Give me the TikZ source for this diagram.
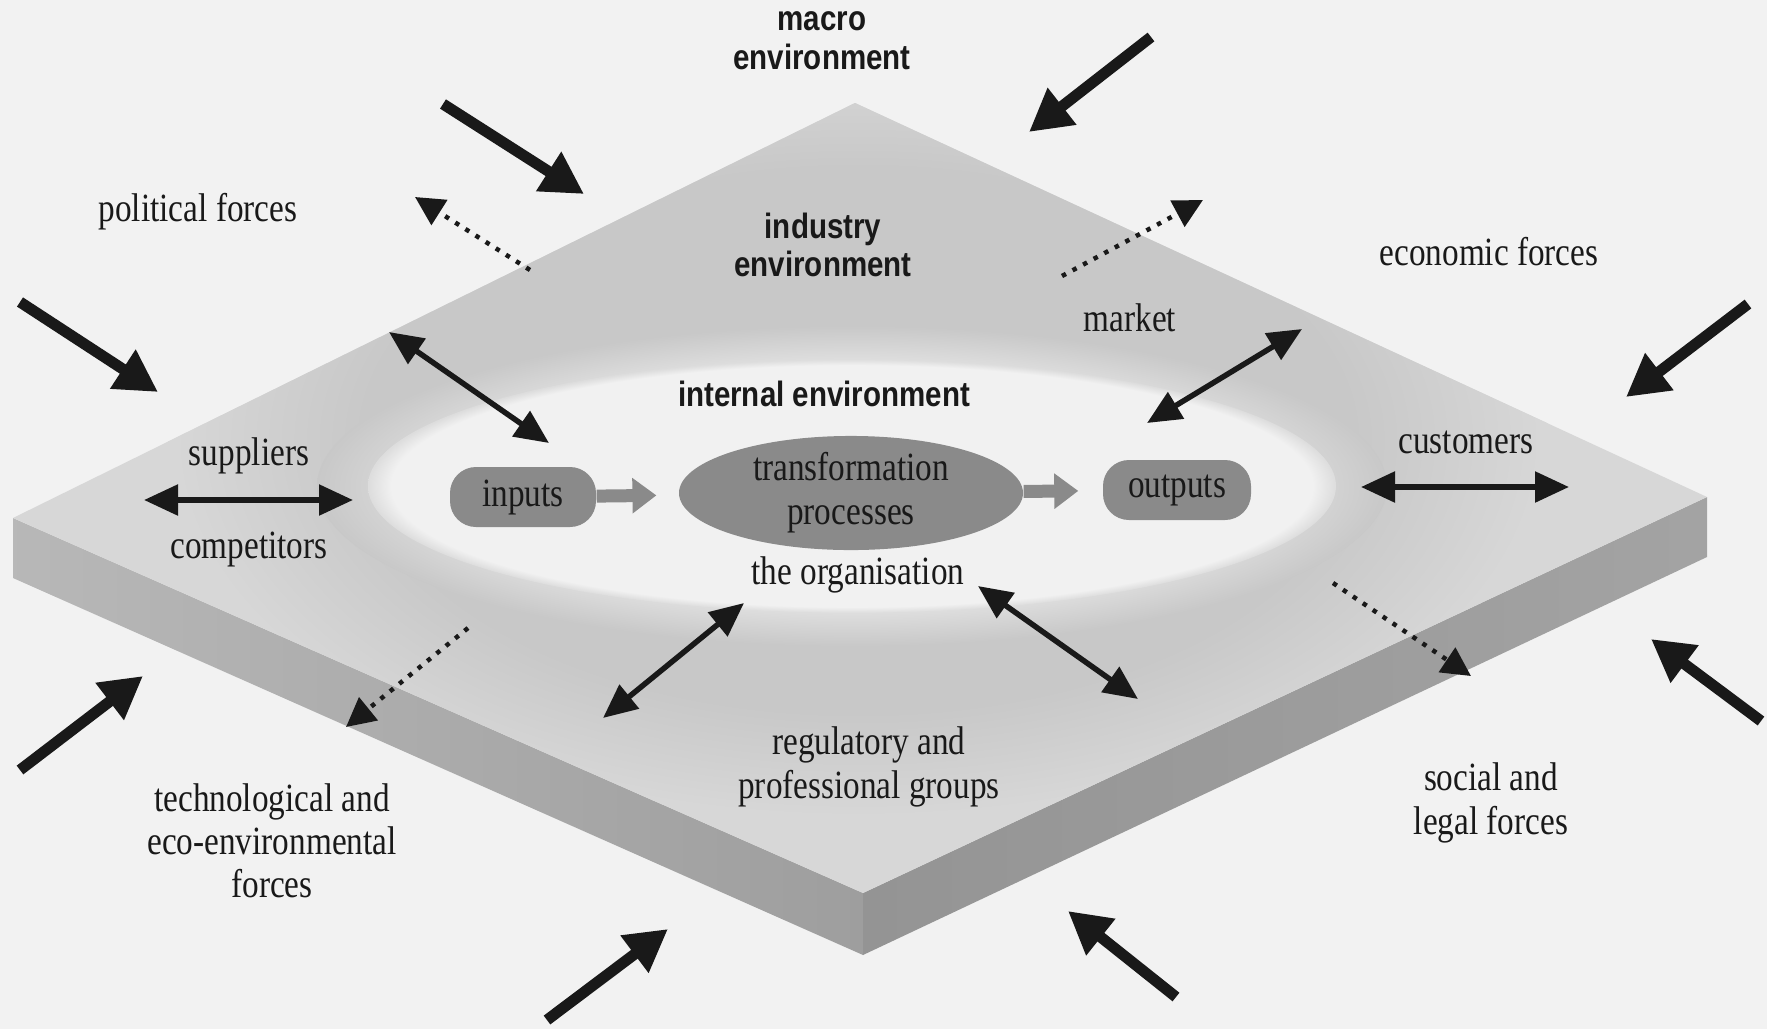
\documentclass[tikz,border=0pt]{standalone}
\usepackage{fontspec}
\setmainfont[FakeStretch=0.83]{Liberation Serif}
\newfontfamily\headfont[FakeStretch=0.84]{Liberation Sans}
\usetikzlibrary{arrows.meta,shapes.geometric}

\definecolor{paper}{gray}{0.95}
\definecolor{macgray}{gray}{0.845}
\definecolor{indgray}{gray}{0.785}
\definecolor{halogray}{gray}{0.865}
\definecolor{intwhite}{gray}{0.945}
\definecolor{procgray}{gray}{0.54}
\definecolor{ink}{gray}{0.1}

% soft-edged fills for the three environments (25bp = edge of the path)
\pgfdeclareradialshading{industry}{\pgfpoint{0bp}{0bp}}{%
  color(0bp)=(indgray); color(18bp)=(indgray); color(25bp)=(macgray);
  color(50bp)=(macgray)}
\pgfdeclareradialshading{halo}{\pgfpoint{0bp}{0bp}}{%
  color(0bp)=(halogray); color(20bp)=(halogray); color(25bp)=(indgray);
  color(50bp)=(indgray)}
\pgfdeclareradialshading{internal}{\pgfpoint{0bp}{0bp}}{%
  color(0bp)=(intwhite); color(23.8bp)=(intwhite); color(25bp)=(halogray);
  color(50bp)=(halogray)}

\begin{document}
\begin{tikzpicture}[
    x=0.1mm, y=-0.1mm,
    lbl/.style={text=ink, align=center, inner sep=1pt,
      font=\fontsize{11.4}{12.3}\selectfont},
    hdg/.style={text=ink, align=center, inner sep=1pt,
      font=\headfont\bfseries\fontsize{10}{11}\selectfont},
    force/.style={draw=ink, line width=1.1mm,
      -{Triangle[length=4.2mm,width=4.4mm]}},
    leak/.style={draw=ink, line width=0.45mm, dash pattern=on 0.45mm off 0.75mm,
      -{Triangle[length=2.9mm,width=2.9mm]}},
    link/.style={draw=ink, line width=0.55mm,
      {Triangle[length=3.4mm,width=3mm]}-{Triangle[length=3.4mm,width=3mm]}},
    proc/.style={fill=procgray, text=black!90, inner sep=0pt, align=center,
      font=\fontsize{11.4}{12.5}\selectfont},
    flow/.style={draw=procgray, line width=1.3mm,
      -{Triangle[length=2.4mm,width=3.4mm]}}
  ]
  \fill[paper] (0,0) rectangle (1767,1029);
  \useasboundingbox (0,0) rectangle (1767,1029);

  % corners of the slab
  \coordinate (apex) at (855,103);
  \coordinate (lft)  at (13,518);
  \coordinate (btm)  at (863,893);
  \coordinate (rgt)  at (1707,497);
  \coordinate (lftb) at (13,578);
  \coordinate (btmb) at (863,955);
  \coordinate (rgtb) at (1707,557);

  \shade[left color=black!28, right color=black!38]
    (lft) -- (btm) -- (btmb) -- (lftb) -- cycle;
  \shade[left color=black!42, right color=black!36]
    (btm) -- (rgt) -- (rgtb) -- (btmb) -- cycle;
  \fill[macgray] (apex) -- (rgt) -- (btm) -- (lft) -- cycle;

  % industry, then internal environment on top
  \begin{scope}
    \clip (apex) -- (rgt) -- (btm) -- (lft) -- cycle;
    \shade[shading=industry] (858,440) ellipse [x radius=690, y radius=380];
    \shade[shading=halo] (852,486) ellipse [x radius=535, y radius=160];
    \shade[shading=internal] (852,486) ellipse [x radius=484, y radius=127];
  \end{scope}

  \node[hdg] (macro) at (822,41) {macro\\environment};
  \node[hdg] (industry) at (823,245) {industry\\environment};
  \node[hdg] (internal) at (824,394) {internal environment};

  \node[proc, rounded corners=2.6mm, minimum width=14.6mm, minimum height=6mm]
    (inputs) at (523,497) {inputs};
  \node[proc, ellipse, minimum width=34.4mm, minimum height=11.2mm]
    (trans) at (851,493) {transformation\\processes};
  \node[proc, rounded corners=2.6mm, minimum width=14.8mm, minimum height=6mm]
    (outputs) at (1177,490) {outputs};
  \draw[flow, shorten >=2.2mm] (inputs) -- (trans);
  \draw[flow, shorten >=2.4mm] (trans) -- (outputs);

  \node[lbl] (political) at (198,212) {political forces};
  \node[lbl] (economic) at (1489,252) {economic forces};
  \node[lbl] (market) at (1130,318) {market};
  \node[lbl] (suppliers) at (249,456) {suppliers};
  \node[lbl] (competitors) at (249,549) {competitors};
  \node[lbl] (customers) at (1466,442) {customers};
  \node[lbl] (organisation) at (858,575) {the organisation};
  \node[lbl] (regulatory) at (869,767) {regulatory and\\professional groups};
  \node[lbl] (technological) at (272,841)
    {technological and\\eco-environmental\\forces};
  \node[lbl] (social) at (1491,803) {social and\\legal forces};

  % two-way links between the layers
  \foreach \n/\ax/\ay/\bx/\by in {1/389/332/549/443, 2/1302/329/1147/423,
      3/744/603/603/718, 4/978/586/1138/699, 5/144/500/353/500,
      6/1361/487/1569/487}{
    \coordinate (ls\n) at (\ax,\ay);
    \coordinate (le\n) at (\bx,\by);
    \draw[link] (ls\n) -- (le\n);
  }

  % effects leaking out of the industry
  \foreach \n/\ax/\ay/\bx/\by in {1/530/270/415/197, 2/1062/276/1203/200,
      3/468/628/346/727, 4/1333/583/1471/676}{
    \coordinate (ks\n) at (\ax,\ay);
    \coordinate (ke\n) at (\bx,\by);
    \draw[leak] (ks\n) -- (ke\n);
  }

  % outside forces pressing on the macro environment
  \foreach \n/\ax/\ay/\bx/\by in {1/443/104/584/194, 2/1151/37/1029/132,
      3/20/302/158/392, 4/1748/304/1626/397, 5/20/770/143/676,
      6/1761/721/1651/639, 7/547/1020/668/929, 8/1176/997/1068/911}{
    \coordinate (fs\n) at (\ax,\ay);
    \coordinate (fe\n) at (\bx,\by);
    \draw[force] (fs\n) -- (fe\n);
  }
\end{tikzpicture}
\end{document}
